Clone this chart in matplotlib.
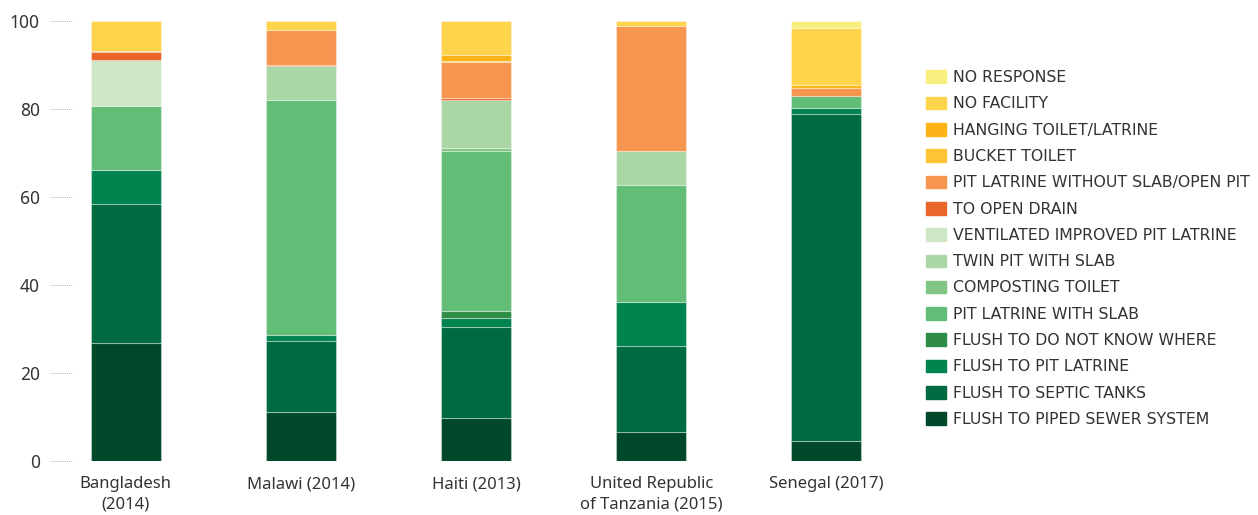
import numpy as np
import matplotlib
matplotlib.use('Agg')
import matplotlib.pyplot as plt
from matplotlib.patches import Rectangle
import matplotlib.transforms as mtransforms

plt.rcParams['font.family'] = ['Noto Sans', 'DejaVu Sans']

countries = ["Bangladesh\n(2014)", "Malawi (2014)", "Haiti (2013)",
             "United Republic\nof Tanzania (2015)", "Senegal (2017)"]

# stacking order, bottom to top
categories = [
    "FLUSH TO PIPED SEWER SYSTEM",
    "FLUSH TO SEPTIC TANKS",
    "FLUSH TO PIT LATRINE",
    "FLUSH TO DO NOT KNOW WHERE",
    "PIT LATRINE WITH SLAB",
    "COMPOSTING TOILET",
    "TWIN PIT WITH SLAB",
    "VENTILATED IMPROVED PIT LATRINE",
    "TO OPEN DRAIN",
    "PIT LATRINE WITHOUT SLAB/OPEN PIT",
    "BUCKET TOILET",
    "HANGING TOILET/LATRINE",
    "NO FACILITY",
    "NO RESPONSE",
]

piped_sewer = [26.8, 11.2, 9.8, 6.5, 4.5]
septic_tanks = [31.6, 16.1, 20.6, 19.6, 74.4]
flush_pit = [7.8, 1.4, 2.0, 10.0, 1.2]
flush_dnk = [0, 0, 1.6, 0, 0]
pit_slab = [14.5, 53.4, 36.3, 26.6, 2.7]
composting = [0, 0, 0.9, 0, 0]
twin_pit = [0, 7.5, 10.8, 7.6, 0]
vip = [10.4, 0, 0, 0, 0]
open_drain = [1.7, 0.3, 0.5, 0.2, 0]
pit_no_slab = [0.3, 8.0, 8.1, 28.2, 1.9]
bucket = [0, 0, 0.3, 0, 0]
hanging = [0, 0, 1.4, 0, 0.6]
no_facility = [6.9, 2.1, 7.7, 1.3, 13.1]
no_response = [0, 0, 0, 0, 1.6]

series = [piped_sewer, septic_tanks, flush_pit, flush_dnk, pit_slab, composting,
          twin_pit, vip, open_drain, pit_no_slab, bucket, hanging,
          no_facility, no_response]

colors = ["#004829", "#006a41", "#00844f", "#2f8c44", "#62bd77", "#82c686",
          "#aad7a5", "#cfe6c7", "#e9652a", "#f69550", "#fec636", "#fdb316",
          "#fed44c", "#f8ef7e"]

W, H = 1258, 515
fig = plt.figure(figsize=(W / 100, H / 100), dpi=100)
ax = fig.add_axes([73 / W, 1 - 461 / H, (879 - 73) / W, (461 - 20.7) / H])

x = np.arange(len(countries))
bottom = np.zeros(len(countries))
for vals, col in zip(series, colors):
    vals = np.array(vals, dtype=float)
    lw = [0.8 if v > 0 else 0 for v in vals]
    ax.bar(x, vals, width=0.4, bottom=bottom, color=col,
           edgecolor=(1, 1, 1, 0.35), linewidth=lw)
    bottom += vals

ax.set_xlim(-0.3, 4.3)
ax.set_ylim(0, 100)
ax.set_yticks([0, 20, 40, 60, 80, 100])
ax.set_xticks(x)
ax.set_xticklabels(countries, fontsize=12, color="#333333", linespacing=1.35)
ax.tick_params(axis='y', length=0, pad=24, labelsize=12.5, labelcolor="#333333")
ax.tick_params(axis='x', length=0, pad=11)
for s in ax.spines.values():
    s.set_visible(False)

# dotted tick guides left of the axis
trans = mtransforms.blended_transform_factory(ax.transAxes, ax.transData)
for t in [0, 20, 40, 60, 80, 100]:
    ax.plot([-0.029, 0], [t, t], transform=trans, color="#999999",
            linestyle=(0, (1, 1.5)), linewidth=0.6, clip_on=False)

# legend, drawn top to bottom
for i, (lab, col) in enumerate(zip(categories[::-1], colors[::-1])):
    yc = 76.7 + 26.3 * i
    fig.patches.append(Rectangle((926 / W, 1 - (yc + 6.3) / H), 20 / W, 12.6 / H,
                                 transform=fig.transFigure, color=col))
    fig.text(953 / W, 1 - (yc + 0.8) / H, lab, fontsize=11.3, color="#333333",
             va='center', ha='left', family='DejaVu Sans')

fig.savefig("out.png", dpi=100)
